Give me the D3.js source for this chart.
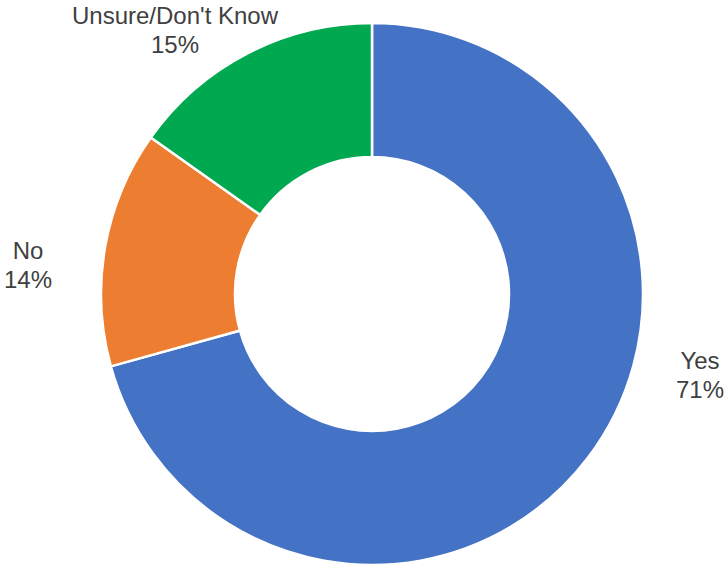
<!DOCTYPE html>
<html>
<head>
<meta charset="utf-8">
<script src="https://cdn.jsdelivr.net/npm/d3@7"></script>
<style>
  html, body { margin: 0; padding: 0; background: #fff; }
  svg { display: block; }
</style>
</head>
<body>
<script>
// data (slice sizes, labels are rounded)
const categories = ['Yes', 'No', "Unsure/Don't Know"];
const values = [70.7, 14.1, 15.2];
const colors = ['#4472C4', '#ED7D31', '#00A84F'];

// label anchor (centre x, first baseline)
const labelPos = [[700, 369], [28, 259], [175, 24]];

const width = 727, height = 564;
const cx = 372, cy = 294;
const outerR = 271, innerR = 137;

const svg = d3.select('body').append('svg')
    .attr('width', width)
    .attr('height', height);

const pie = d3.pie().sort(null).value(d => d)(values);

const arc = d3.arc()
    .innerRadius(innerR)
    .outerRadius(outerR);

const g = svg.append('g').attr('transform', `translate(${cx},${cy})`);

g.selectAll('path')
    .data(pie)
    .enter()
    .append('path')
        .attr('d', arc)
        .attr('fill', (d, i) => colors[i])
        .attr('stroke', '#fff')
        .attr('stroke-width', 2.5);

const labels = svg.selectAll('text.lbl')
    .data(pie)
    .enter()
    .append('text')
        .attr('class', 'lbl')
        .attr('text-anchor', 'middle')
        .attr('font-family', 'Liberation Sans, Arial, sans-serif')
        .attr('font-size', 24)
        .attr('fill', '#404040')
        .attr('transform', (d, i) => `translate(${labelPos[i][0]},${labelPos[i][1]})`);

labels.append('tspan')
    .attr('x', 0)
    .attr('y', 0)
    .text((d, i) => categories[i]);

labels.append('tspan')
    .attr('x', 0)
    .attr('y', 28.5)
    .text(d => Math.round(d.data) + '%');
</script>
</body>
</html>
